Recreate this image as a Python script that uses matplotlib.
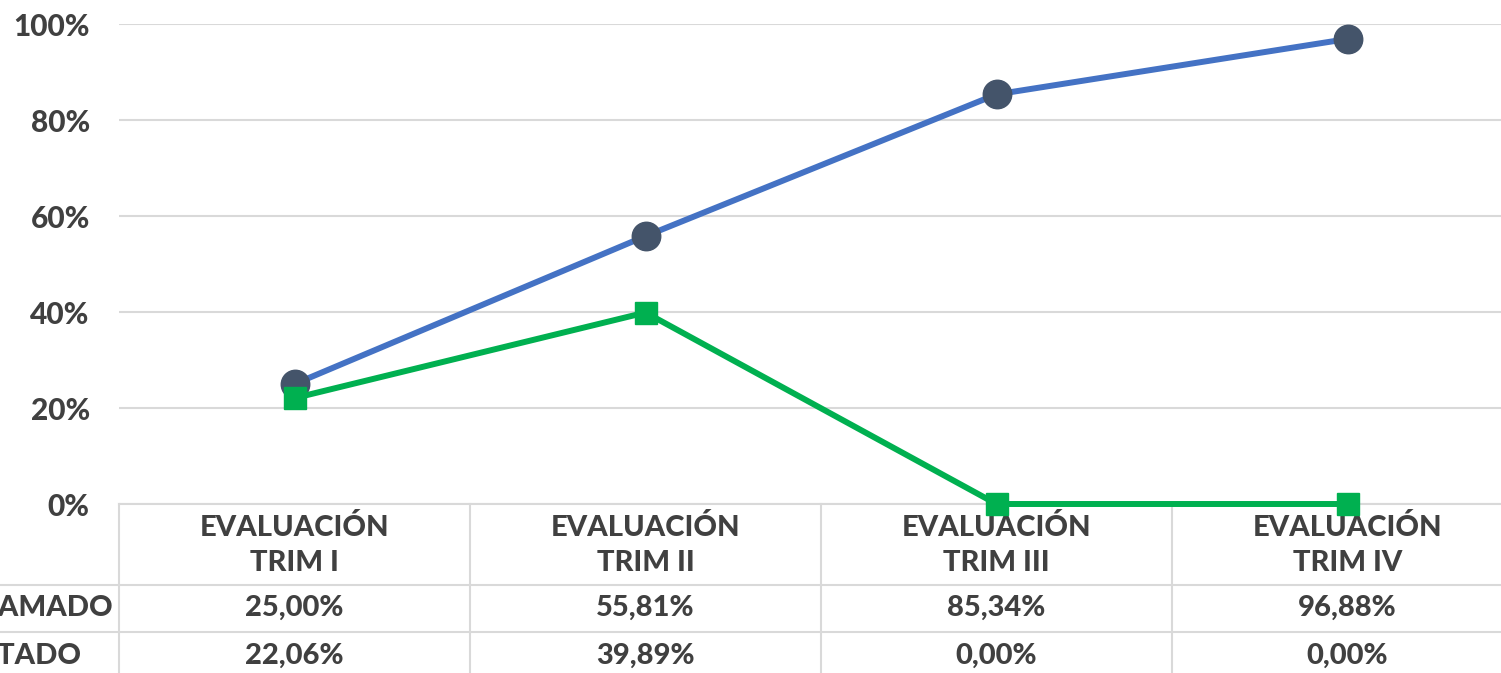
import matplotlib.pyplot as plt
from matplotlib.transforms import blended_transform_factory
from matplotlib.ticker import PercentFormatter

# datos
categorias = ["EVALUACIÓN\nTRIM I", "EVALUACIÓN\nTRIM II", "EVALUACIÓN\nTRIM III", "EVALUACIÓN\nTRIM IV"]
programado = [25.00, 55.81, 85.34, 96.88]
ejecutado = [22.06, 39.89, 0.00, 0.00]
series = ["PROGRAMADO", "EJECUTADO"]

gris = "#404040"
linea = "#D9D9D9"
fuente = "Lato"

W, H = 1501, 673
fig = plt.figure(figsize=(W / 100, H / 100), dpi=100)
ax = fig.add_axes([119 / W, (H - 504) / H, 1404 / W, 480 / H])

x = list(range(len(categorias)))
ax.plot(x, programado, color="#4472C4", lw=4.3, marker="o", ms=20.5,
        mfc="#44546A", mec="#44546A", zorder=3, clip_on=False)
ax.plot(x, ejecutado, color="#00B050", lw=4.3, marker="s", ms=16.5,
        mfc="#00B050", mec="#00B050", zorder=4, clip_on=False)

ax.set_xlim(-0.5, 3.5)
ax.set_ylim(0, 100)
ax.set_yticks([0, 20, 40, 60, 80, 100])
ax.yaxis.set_major_formatter(PercentFormatter(decimals=0))
ax.grid(axis="y", color=linea, lw=1.5)
ax.set_axisbelow(True)
for s in ax.spines.values():
    s.set_visible(False)
ax.set_xticks([])
ax.tick_params(axis="y", length=0, pad=21, labelsize=21.5, labelcolor=gris)
for t in ax.get_yticklabels():
    t.set_fontweight("black")
    t.set_fontfamily(fuente)

# tabla de datos
tr = blended_transform_factory(ax.transData, ax.transAxes)
def fy(ypix):
    return (504 - ypix) / 480

kw = dict(color=linea, lw=1.5, clip_on=False, transform=tr, zorder=1)
ax.plot([-0.5, 3.6], [0, 0], **kw)
ax.plot([-1.0, 3.6], [fy(585), fy(585)], **kw)
ax.plot([-1.0, 3.6], [fy(632), fy(632)], **kw)
for xv in [-0.5, 0.5, 1.5, 2.5, 3.5]:
    ax.plot([xv, xv], [0, fy(690)], **kw)

txt = dict(transform=tr, ha="center", va="center", color=gris,
           fontsize=21, fontweight="black", family=fuente, clip_on=False)
for i, c in enumerate(categorias):
    ax.text(i, fy(545), c, linespacing=1.45, **txt)
    ax.text(i, fy(608), f"{programado[i]:.2f}%".replace(".", ","), **txt)
    ax.text(i, fy(656), f"{ejecutado[i]:.2f}%".replace(".", ","), **txt)

px = 351  # ancho de categoria en pixeles
ax.text(-0.5 - 6 / px, fy(608), series[0], **{**txt, "ha": "right"})
ax.text(-0.5 - 37 / px, fy(656), series[1], **{**txt, "ha": "right"})

fig.savefig("out.png", dpi=100)
